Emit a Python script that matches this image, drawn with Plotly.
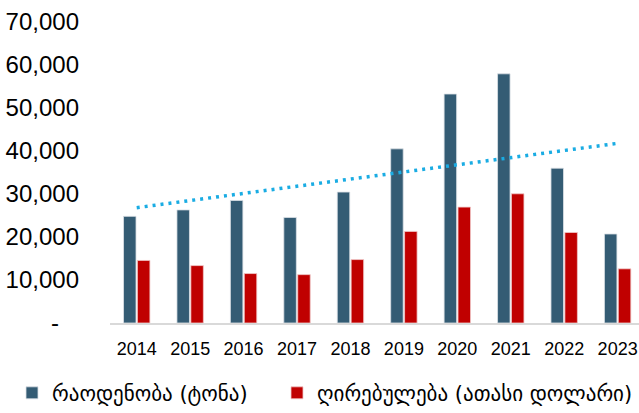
import numpy as np
import plotly.graph_objects as go

years = ["2014", "2015", "2016", "2017", "2018", "2019", "2020", "2021", "2022", "2023"]
quantity_tons = [24800, 26300, 28500, 24550, 30450, 40500, 53250, 57950, 36000, 20700]
value_kusd = [14550, 13350, 11500, 11250, 14750, 21300, 26950, 30050, 21050, 12600]
qty_name = "რაოდენობა (ტონა)"
val_name = "ღირებულება (ათასი დოლარი)"
y_tickvals = [0, 10000, 20000, 30000, 40000, 50000, 60000, 70000]
y_ticktext = ["-\u00a0\u00a0\u00a0", "10,000", "20,000", "30,000", "40,000", "50,000", "60,000", "70,000"]

# linear trendline of quantity
xi = np.arange(len(years))
slope, intercept = np.polyfit(xi, quantity_tons, 1)
trend = slope * xi + intercept

fig = go.Figure()
fig.add_trace(go.Bar(
    x=years, y=quantity_tons, name=qty_name, legend="legend",
    marker=dict(color="#345C74", line=dict(color="rgba(220,225,230,0.8)", width=1)),
))
fig.add_trace(go.Bar(
    x=years, y=value_kusd, name=val_name, legend="legend2",
    marker=dict(color="#C00000", line=dict(color="rgba(240,200,200,0.8)", width=1)),
))
fig.add_trace(go.Scatter(
    x=years, y=trend, mode="lines", showlegend=False,
    line=dict(color="#1AACE3", width=3.5, dash="3px,5px"),
))

leg_common = dict(
    orientation="h", xanchor="left", xref="container",
    y=0.048, yanchor="middle", yref="container",
    font=dict(size=21, family="DejaVu Sans", color="#000000"),
    itemwidth=30, bgcolor="rgba(0,0,0,0)",
)
fig.update_layout(
    width=639, height=413,
    margin=dict(l=110, r=0, t=22, b=89.5, autoexpand=False),
    paper_bgcolor="white", plot_bgcolor="white",
    barmode="group", bargap=0.48, bargroupgap=0.1,
    font=dict(family="Liberation Sans, DejaVu Sans", color="#000000"),
    showlegend=True,
    legend=dict(x=12 / 639, **leg_common),
    legend2=dict(x=277 / 639, **leg_common),
)
fig.update_xaxes(
    type="category", range=[-0.5, 9.4], automargin=False,
    showline=True, linecolor="#D9D9D9", linewidth=2,
    showgrid=False, ticks="outside", ticklen=8, tickcolor="rgba(0,0,0,0)",
    tickfont=dict(size=18, family="Liberation Sans"),
)
fig.update_yaxes(
    range=[0, 70000], tickvals=y_tickvals, ticktext=y_ticktext, automargin=False,
    showgrid=False, showline=False, zeroline=False,
    tickfont=dict(size=24, family="Liberation Sans"),
    ticklabelstandoff=30,
)

fig.write_html("out.html", config={"displayModeBar": False},
               post_script="document.body.style.margin='0';")
